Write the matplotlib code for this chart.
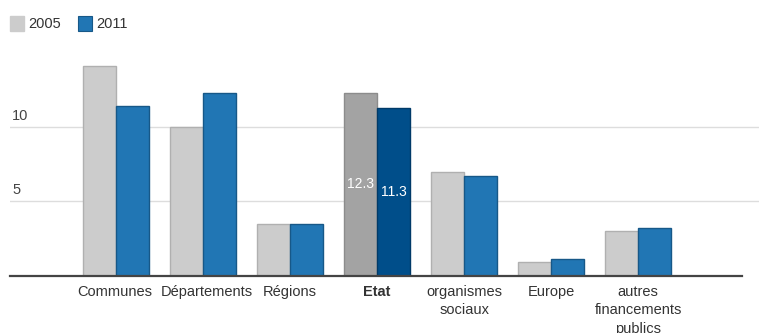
import numpy as np
import matplotlib.pyplot as plt

plt.rcParams['font.family'] = ['Liberation Sans', 'DejaVu Sans']

# données
categories = ['Communes', 'Départements', 'Régions', 'Etat',
              'organismes\nsociaux', 'Europe', 'autres\nfinancements\npublics']
v2005 = [14.1, 10.0, 3.5, 12.3, 7.0, 0.95, 3.0]
v2011 = [11.4, 12.3, 3.5, 11.3, 6.7, 1.1, 3.2]
highlight = 3  # Etat
yticks = [5, 10]

W, H = 759, 333
fig = plt.figure(figsize=(W / 100, H / 100), dpi=100)
# axe : gauche 10px, base à 275.7px
ax = fig.add_axes([10 / W, 1 - 275.7 / H, (W - 10) / W, 230.3 / H])
ax.set_ylim(0, 15.5)
ax.set_xlim(-1.22, 7.39)

x = np.arange(len(categories))
w = 0.38
c05 = ['#cccccc'] * len(x)
c11 = ['#2176b4'] * len(x)
e05 = ['#b0b0b0'] * len(x)
e11 = ['#175888'] * len(x)
c05[highlight] = '#a3a3a3'
e05[highlight] = '#8c8c8c'
c11[highlight] = '#004e8a'
e11[highlight] = '#003a68'

for yv in yticks:
    ax.axhline(yv, color='#dddddd', lw=1, zorder=0)
    ax.annotate(str(yv), (0, yv), xycoords=ax.get_yaxis_transform(),
                xytext=(2, 4), textcoords='offset pixels',
                ha='left', va='bottom', fontsize=10.5, color='#444444')
ax.plot([-1.22, 7.2], [0, 0], color='#444444', lw=1.6, zorder=3, clip_on=False)

b1 = ax.bar(x - w / 2, v2005, w, color=c05, edgecolor=e05, lw=1, zorder=2)
b2 = ax.bar(x + w / 2, v2011, w, color=c11, edgecolor=e11, lw=1, zorder=2)

ax.text(x[highlight] - w / 2, v2005[highlight] / 2, f'{v2005[highlight]}',
        ha='center', va='center', color='white', fontsize=10)
ax.text(x[highlight] + w / 2, v2011[highlight] / 2, f'{v2011[highlight]}',
        ha='center', va='center', color='white', fontsize=10)

# petits décalages (px) pour éviter le chevauchement des libellés
nudge = [-1, 4, 0, 0, 0, 0, 0]
for i, lab in enumerate(categories):
    ax.annotate(lab, (x[i], 0), xytext=(nudge[i], -9), textcoords='offset pixels',
                ha='center', va='top', fontsize=10.5, color='#333333',
                linespacing=1.4, annotation_clip=False,
                fontweight='bold' if i == highlight else 'normal')

ax.set_xticks([])
ax.set_yticks([])
for s in ax.spines.values():
    s.set_visible(False)
ax.patch.set_alpha(0)

# légende
fig.patches.append(plt.Rectangle((10 / W, 1 - 31 / H), 14 / W, 15 / H,
                                 transform=fig.transFigure, color='#cccccc'))
fig.text(28 / W, 1 - 23.5 / H, '2005', va='center', fontsize=10.5, color='#333333')
fig.patches.append(plt.Rectangle((78 / W, 1 - 31 / H), 14 / W, 15 / H,
                                 transform=fig.transFigure, facecolor='#2176b4',
                                 edgecolor='#175888', lw=0.8))
fig.text(96 / W, 1 - 23.5 / H, '2011', va='center', fontsize=10.5, color='#333333')

fig.savefig('out.png', dpi=100)
